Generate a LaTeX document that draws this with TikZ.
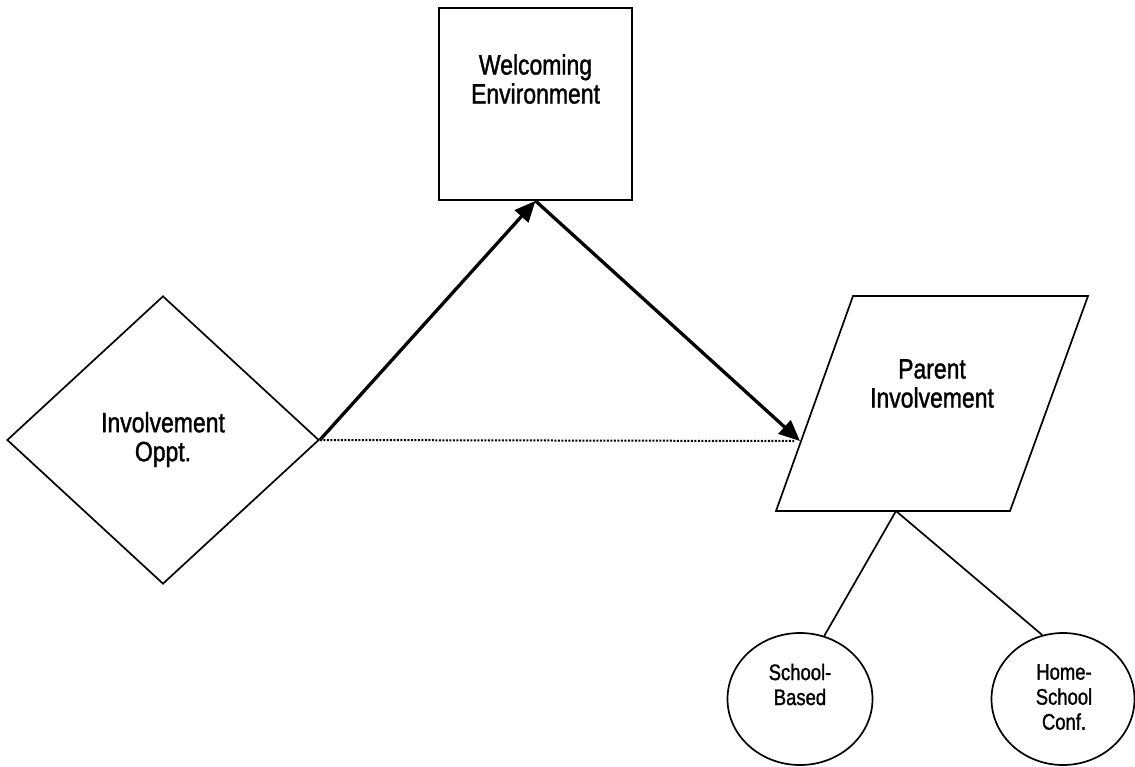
\documentclass[tikz,border=0pt]{standalone}
\usepackage{fontspec}
\setmainfont{Liberation Sans}[FakeStretch=0.82,FakeBold=1.3]
\usetikzlibrary{shapes.geometric,arrows.meta}
\tikzset{
  shapeline/.style={draw=black, line width=1.7pt},
  bigtext/.style={font=\fontsize{28pt}{29pt}\selectfont, align=center, inner sep=0pt},
  smalltext/.style={font=\fontsize{22.5pt}{25pt}\selectfont, align=center, inner sep=0pt},
  thickarrow/.style={line width=3.3pt, -{Triangle[length=21pt,width=18pt]}},
  dotline/.style={line width=2pt, dash pattern=on 2pt off 1.5pt},
  thinline/.style={line width=1.7pt}
}
\begin{document}
\begin{tikzpicture}[x=1pt,y=-1pt]
\useasboundingbox (0,0) rectangle (1135,766);

% Welcoming Environment (square)
\node[shapeline, rectangle, minimum width=193pt, minimum height=192pt, inner sep=0pt] (we) at (535.5,104) {};
\node[bigtext] (wet) at (535.5,79) {Welcoming\\Environment};

% Involvement Oppt. (diamond)
\node[shapeline, diamond, minimum width=312pt, minimum height=288pt, inner sep=0pt] (io) at (163,440) {};
\node[bigtext] (iot) at (163,439.5) {Involvement\\Oppt.};

% Parent Involvement (parallelogram)
\coordinate (ptl) at (853,296);
\coordinate (ptr) at (1088,296);
\coordinate (pbr) at (1010,511);
\coordinate (pbl) at (776,511);
\draw[shapeline, line join=miter] (ptl) -- (ptr) -- (pbr) -- (pbl) -- cycle;
\node[bigtext] (pit) at (932,383.5) {Parent\\Involvement};
\coordinate (pleft) at (800,441);
\coordinate (pbot) at (896,511);

% Sub circles
\node[shapeline, ellipse, minimum width=145pt, minimum height=132pt, inner sep=0pt] (sb) at (800,699) {};
\node[smalltext] (sbt) at (800,684.5) {School-\\Based};
\node[shapeline, ellipse, minimum width=143pt, minimum height=132pt, inner sep=0pt] (hs) at (1063,699) {};
\node[smalltext] (hst) at (1064,697) {Home-\\School\\Conf.};

% Connectors
\draw[dotline] (io.east) -- ([xshift=-6pt]pleft);
\draw[thickarrow] (io.east) -- (we.south);
\draw[thickarrow] (we.south) -- (pleft);
\draw[thinline] (pbot) -- (sb.69);
\draw[thinline] (pbot) -- (hs.108);
\end{tikzpicture}
\end{document}
